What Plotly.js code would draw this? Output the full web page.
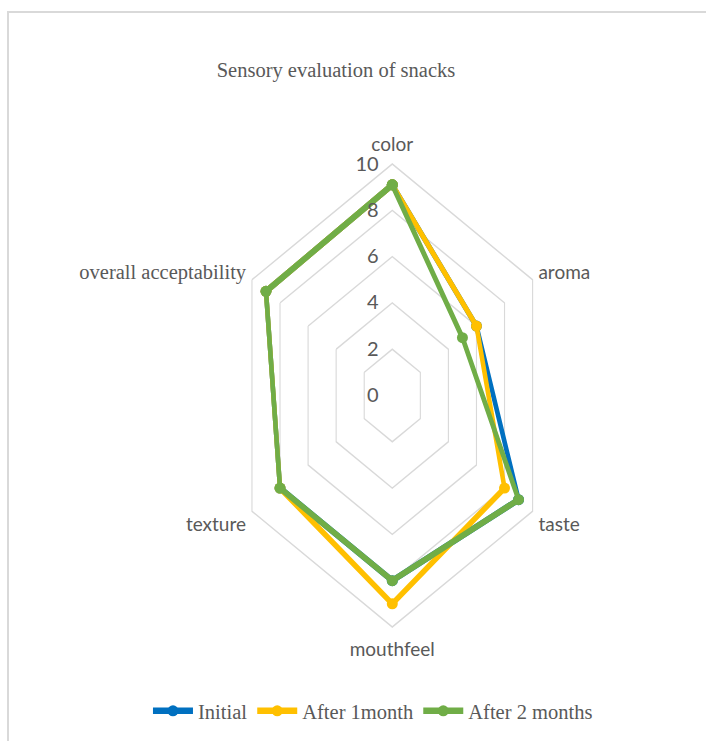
<!DOCTYPE html>
<html><head><meta charset="utf-8">
<script src="https://cdn.plot.ly/plotly-3.0.1.min.js"></script>
<style>
html,body{margin:0;padding:0;background:#fff;}
#wrap{position:relative;width:706px;height:741px;overflow:hidden;background:#fff;}
#chart{position:absolute;left:0;top:0;width:1009px;height:741px;transform:scaleX(0.7);transform-origin:0 0;}
#frame{position:absolute;left:7px;top:11px;width:760px;height:800px;border-left:2px solid #d9d9d9;border-top:2px solid #d9d9d9;pointer-events:none;}
</style></head><body>
<div id="wrap"><div id="chart"></div><div id="frame"></div></div>
<script>
// ---- data ----
const categories = ['color', 'aroma', 'taste', 'mouthfeel', 'texture', 'overall acceptability'];
const initialScores = [9.1, 6.0, 9.0, 8.0, 8.0, 9.0];
const month1Scores  = [9.1, 6.0, 8.0, 9.0, 8.0, 9.0];
const month2Scores  = [9.1, 5.0, 9.0, 8.0, 8.0, 9.0];
const seriesNames = ['Initial', 'After 1month', 'After 2 months'];
const radialTicks = [0, 2, 4, 6, 8, 10];

// ---- styling ----
const S = 0.7;            // horizontal squash of the radar (reference is not regular)
const INV = 1 / S;
const W = 1009, H = 741;
const seriesColors = ['#0070C0', '#FFC000', '#70AD47'];
const gray = '#595959';
const serif = 'Liberation Serif, Times New Roman, serif';
const sans = 'Lato, Carlito, sans-serif';

function closed(a) { return a.concat([a[0]]); }
const seriesValues = [initialScores, month1Scores, month2Scores];

const traces = seriesValues.map((v, i) => ({
  type: 'scatterpolar',
  r: closed(v),
  theta: closed(categories),
  name: seriesNames[i],
  mode: 'lines+markers',
  line: { color: seriesColors[i], width: 6.5 },
  marker: { size: 11, color: seriesColors[i] },
  cliponaxis: false
}));

const tickText = categories.map(c => c === 'overall acceptability'
  ? '<span style="font-family:\'Liberation Serif\';font-size:20.5px">' + c + '</span>' : c);

const layout = {
  width: W, height: H,
  margin: { l: 0, r: 0, t: 0, b: 0 },
  paper_bgcolor: '#ffffff',
  title: {
    text: 'Sensory evaluation of snacks',
    x: 0.4757, xanchor: 'center', y: 0.9055, yanchor: 'middle',
    font: { family: serif, size: 20.5, color: gray }
  },
  showlegend: true,
  legend: {
    orientation: 'h', x: 0.2095, xanchor: 'left', y: 0.0405, yanchor: 'middle',
    font: { family: serif, size: 20.5, color: gray },
    bgcolor: 'rgba(0,0,0,0)', itemwidth: 40
  },
  polar: {
    domain: { x: [0.326, 0.7848], y: [0.1538, 0.7787] },
    bgcolor: 'rgba(0,0,0,0)',
    gridshape: 'linear',
    angularaxis: {
      type: 'category', direction: 'clockwise', rotation: 90,
      showgrid: false, showline: true, linecolor: '#d9d9d9', linewidth: 1.6,
      ticks: 'outside', ticklen: 5, tickcolor: 'rgba(0,0,0,0)',
      tickmode: 'array', tickvals: categories, ticktext: tickText,
      tickfont: { family: sans, size: 19, color: gray }
    },
    radialaxis: {
      range: [0, 10], tickmode: 'array', tickvals: radialTicks,
      angle: 90, tickangle: 90, side: 'counterclockwise',
      showline: false, ticks: 'outside', ticklen: 12, tickcolor: 'rgba(0,0,0,0)',
      gridcolor: '#d9d9d9', gridwidth: 1.6,
      tickfont: { family: sans, size: 20, color: gray }
    }
  }
};

// undo the horizontal squash for text and markers so they keep their natural shape
function scaleAbout(el, X) {
  const svg = el.ownerSVGElement;
  const P = el.parentNode.getCTM();
  const cons = el.transform.baseVal.consolidate();
  const T = cons ? cons.matrix : svg.createSVGMatrix();
  const A = svg.createSVGMatrix().translate(X, 0).scaleNonUniform(INV, 1).translate(-X, 0);
  const M = P.inverse().multiply(A).multiply(P).multiply(T);
  el.setAttribute('transform', 'matrix(' + [M.a, M.b, M.c, M.d, M.e, M.f].join(',') + ')');
}
function unsquash(gd) {
  const legend = gd.querySelector('g.legend');
  if (legend) legend.setAttribute('transform', (legend.getAttribute('transform') || '') + ' scale(' + INV + ',1)');
  gd.querySelectorAll('svg.main-svg text').forEach(t => {
    if (t.closest('g.legend')) return;
    const anchor = t.getAttribute('text-anchor') || 'start';
    const bb = t.getBBox();
    const lx = anchor === 'middle' ? bb.x + bb.width / 2 : (anchor === 'end' ? bb.x + bb.width : bb.x);
    const ly = bb.y + bb.height / 2;
    const m = t.getCTM();
    const X = m.a * lx + m.c * ly + m.e;
    scaleAbout(t, X);
  });
  gd.querySelectorAll('.polarlayer path.point').forEach(p => {
    p.setAttribute('transform', (p.getAttribute('transform') || '') + ' scale(' + INV + ',1)');
  });
}

Plotly.newPlot('chart', traces, layout, { displayModeBar: false, staticPlot: true })
  .then(gd => unsquash(gd));
</script>
</body></html>
